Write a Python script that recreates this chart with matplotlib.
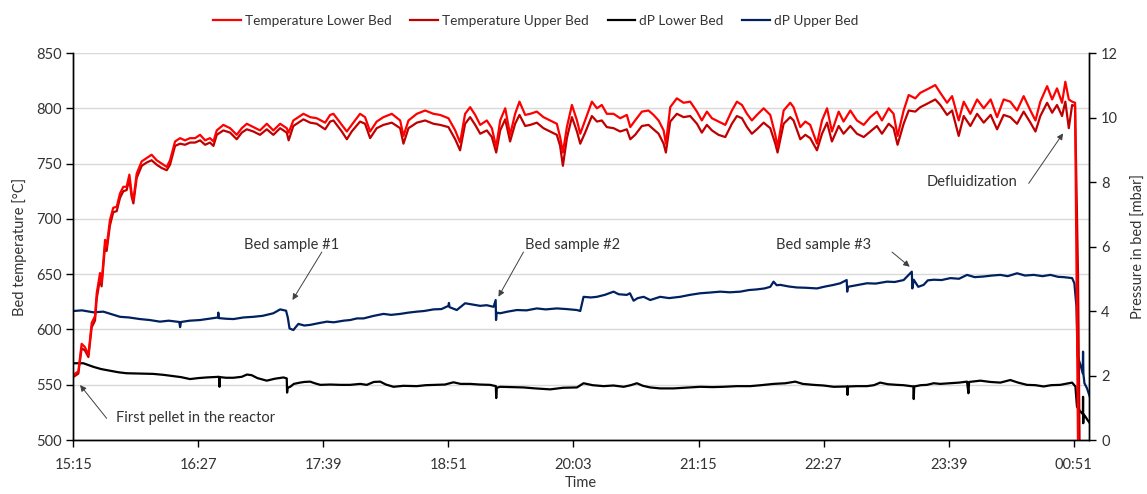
import matplotlib
matplotlib.use("Agg")
import matplotlib.pyplot as plt

# ---------------------------
# Data (minutes after 15:15)
# ---------------------------
t_temp = [0, 2.9, 4.8, 6.7, 8.7, 10.6, 12.5, 13.5, 15.4, 16.3, 18.3, 19.2, 21.1, 23, 25, 26.9,
          28.8, 30.7, 32.3, 33.6, 34.6, 36.5, 39.4, 42.3, 45.1, 48, 50.9, 53.8, 55.7, 58.6,
          61.5, 64.3, 67.2, 70.1, 73, 75.9, 78.7, 80.7, 82.6, 86.4, 90.3, 94.1, 97, 99.9,
          103.7, 107.5, 111.4, 115.2, 119.1, 122.9, 124, 126.7, 132.5, 136.4, 140.2, 145,
          147.9, 149.8, 152.7, 154.6, 157.5, 160.3, 165.1, 168, 170.9, 174.7, 178.6, 183.4,
          188.2, 190.1, 193, 197.8, 202.6, 207.4, 211.2, 216, 219.9, 222.7, 225.6, 228.5,
          231.4, 234.3, 238.1, 241, 243.5, 245.8, 248.7, 251.5, 254.4, 256.9, 260.2, 263.1,
          266.9, 270.7, 274.6, 278.4, 280.3, 281.9, 284.2, 287.1, 290, 291.9, 294.7, 298.6,
          301.5, 304.3, 307.2, 311.1, 314.9, 318.7, 320.7, 323.5, 327.4, 331.2, 334.1, 337,
          339.9, 341.2, 343.7, 347.5, 351.4, 355.2, 359.1, 361.9, 364.8, 367.7, 371.5, 375.4,
          379.2, 382.1, 385, 387.9, 390.7, 393.6, 397.5, 401.3, 404.2, 405.5, 409, 412.8,
          414.7, 418.6, 421.5, 424.3, 428.2, 431.1, 434, 436.8, 440.7, 443.5, 447.4, 451.2,
          455.1, 458.9, 462.7, 465.6, 469.5, 472.3, 474.6, 478.1, 481, 484.8, 487.7, 491.5,
          496.3, 499.2, 503.1, 506, 509.8, 512.7, 516.5, 520.4, 524.2, 528.2, 531.9, 535.7,
          539.5, 543.4, 547.2, 551.1, 554, 556.8, 560.7, 563.6, 566.4, 569.3, 571.2, 573.2,
          575.1, 576.8, 578.5, 579.5]

temp_lower = [559, 562, 587, 584, 577, 606, 612, 633, 651, 642, 681, 675, 699, 710, 711, 723,
              729, 729, 740, 723, 717, 741, 752, 755, 758, 753, 750, 747, 753, 770,
              773, 771, 773, 773, 776, 771, 773, 770, 780, 785, 782, 776, 782, 786,
              783, 780, 786, 780, 786, 782, 778, 789, 795, 792, 791, 787,
              794, 795, 789, 785, 779, 785, 795, 792, 779, 788, 792, 795,
              789, 775, 789, 795, 798, 795, 794, 791, 780, 769, 795, 801,
              794, 785, 789, 782, 765, 789, 800, 776, 795, 806, 794, 795,
              797, 792, 789, 786, 774, 760, 783, 803, 789, 777, 789, 806,
              800, 803, 795, 795, 791, 794, 783, 789, 797, 798, 794, 789,
              780, 768, 801, 809, 805, 806, 797, 789, 797, 791, 788, 785,
              798, 806, 803, 795, 789, 794, 800, 794, 776, 765, 798, 805,
              801, 783, 788, 785, 768, 789, 800, 779, 797, 788, 798, 789,
              785, 792, 797, 789, 800, 795, 775, 798, 812, 809, 814, 817,
              821, 814, 805, 811, 789, 806, 795, 808, 800, 808, 792, 808,
              806, 798, 811, 798, 789, 806, 820, 808, 818, 805, 824, 808,
              806, 805, 495, 480]

temp_upper = [557, 560, 583, 581, 575, 602, 608, 628, 646, 639, 676, 671, 694, 706, 707, 719,
              725, 726, 736, 720, 714, 737, 748, 751, 753, 749, 746, 744, 749, 766,
              768, 767, 769, 769, 771, 767, 769, 766, 776, 780, 778, 772, 778, 781,
              779, 776, 781, 776, 782, 778, 771, 784, 790, 787, 786, 781,
              788, 789, 783, 779, 772, 779, 788, 786, 773, 782, 785, 787,
              782, 768, 782, 787, 789, 786, 785, 783, 772, 762, 786, 792,
              785, 777, 780, 774, 760, 780, 790, 770, 786, 794, 784, 785,
              787, 782, 779, 776, 766, 748, 773, 792, 779, 768, 778, 793,
              788, 789, 783, 782, 779, 781, 772, 776, 784, 785, 781, 777,
              768, 760, 788, 795, 792, 793, 786, 778, 785, 780, 776, 774,
              786, 793, 791, 783, 777, 781, 787, 782, 768, 760, 786, 792,
              789, 772, 776, 773, 762, 777, 787, 770, 784, 777, 784, 777,
              774, 779, 784, 777, 786, 782, 767, 786, 798, 797, 801, 804,
              808, 803, 794, 798, 775, 793, 784, 795, 787, 794, 781, 794,
              792, 786, 797, 787, 779, 793, 805, 796, 803, 793, 806, 782,
              803, 802, 650, 480]

t_dp_lower = [0, 5.8, 11.5, 16, 21.1, 26, 30.7, 38, 46, 52, 57.6, 62, 67.2, 72, 76.8, 84, 84.2,
              84.4, 88, 92.2, 97, 100, 102.7, 106, 111.4, 116, 121, 122.9, 123.1, 123.4, 124.9,
              127, 130.6, 133, 136.4, 139, 142.2, 148, 153.7, 159.4, 165.2, 169, 173, 176.7,
              180, 184.4, 190, 197.8, 203, 209.3, 214, 218.9, 223, 228.5, 234, 240, 243.3,
              243.5, 243.8, 245.8, 252, 259.2, 266, 274.6, 282, 290, 293.8, 299, 305.3, 311,
              316.9, 321, 324.5, 328, 332.2, 338, 345.6, 352, 361, 368, 374.4, 382, 389.8,
              396, 403.2, 410, 415.7, 420, 426.2, 432, 437.8, 445.6, 445.8, 446.1, 451, 457,
              461, 464.6, 469, 474.2, 478, 483.7, 483.9, 484.2, 488, 491.5, 495.4, 499.2,
              505, 510, 514.6, 515.4, 515.8, 522.3, 528, 533.8, 539.5, 544, 549.1, 554,
              558.7, 563, 568.3, 572, 575.1, 577, 577.9, 579.9, 581.3, 581.4, 581.5, 581.7,
              582.8, 584, 585.3]

dp_lower = [2.38, 2.38, 2.27, 2.20, 2.15, 2.10, 2.07, 2.06, 2.05, 2.02, 1.98, 1.95, 1.89, 1.92,
            1.94, 1.96, 1.65, 1.95, 1.93, 1.93, 1.96, 2.03, 2.01, 1.92, 1.84, 1.90, 1.94, 1.91,
            1.47, 1.62, 1.65, 1.74, 1.78, 1.80, 1.81, 1.76, 1.71, 1.72, 1.71, 1.71, 1.74, 1.71,
            1.80, 1.81, 1.72, 1.65, 1.68, 1.67, 1.70, 1.71, 1.72, 1.79, 1.74, 1.74, 1.72, 1.71,
            1.67, 1.30, 1.62, 1.65, 1.64, 1.63, 1.60, 1.57, 1.62, 1.63, 1.76, 1.70, 1.67, 1.69,
            1.65, 1.70, 1.76, 1.68, 1.63, 1.60, 1.60, 1.62, 1.65, 1.64, 1.65, 1.67, 1.67,
            1.70, 1.74, 1.76, 1.81, 1.74, 1.71, 1.69, 1.65, 1.66, 1.40, 1.66, 1.67, 1.67,
            1.70, 1.78, 1.73, 1.71, 1.70, 1.66, 1.27, 1.66, 1.70, 1.71, 1.76, 1.74,
            1.76, 1.78, 1.81, 1.45, 1.80, 1.84, 1.80, 1.78, 1.86, 1.78, 1.71, 1.70,
            1.66, 1.70, 1.71, 1.75, 1.78, 1.66, 1.03, 0.88, 0.80, 1.34, 0.52, 0.80,
            0.72, 0.62, 0.52]

t_dp_upper = [0, 5, 11.5, 17.3, 22, 26.9, 32, 38.4, 44, 49.9, 55, 61, 61.5, 62, 67, 73, 78, 83.3,
              83.5, 83.8, 88, 92.2, 98, 103.7, 109, 115.2, 119.1, 122.5, 123.5, 124.5, 126.7,
              129.6, 133, 136.4, 141, 146, 150, 155.6, 159.4, 163.3, 167.1, 173, 178.6, 183,
              188.2, 193, 197.8, 202, 207.4, 212, 216, 216.3, 216.6, 220.8, 225.6, 230, 234.3,
              238, 242, 243.2, 243.4, 243.8, 245.8, 250, 255.4, 261, 266.9, 272, 278.4, 284,
              290, 291.9, 293.8, 298, 301.5, 306, 311.1, 314, 318.7, 320.5, 322.6, 325, 328.4,
              332.2, 337.9, 343, 349.4, 355, 361, 366, 372.5, 378, 384, 389, 393.6, 398, 401.3,
              403.2, 405, 407.1, 412, 416.6, 422, 428.2, 433, 437.8, 441.6, 445.3, 445.6, 446,
              451, 457, 462, 468.5, 473, 478.1, 482.8, 483.1, 483.9, 486.5, 489.6, 492, 495.4,
              500, 505, 510, 514.6, 519, 524.2, 529, 533.8, 538, 543.4, 548, 553, 558, 562.6,
              567, 570.3, 575.1, 576.4, 577.6, 578.3, 579.9, 581.2, 581.4, 581.6, 582.2, 583.7,
              585.3]

dp_upper = [4.00, 4.02, 3.96, 3.98, 3.90, 3.82, 3.80, 3.75, 3.72, 3.67, 3.70, 3.66, 3.50, 3.66,
            3.70, 3.72, 3.76, 3.80, 3.95, 3.78, 3.76, 3.75, 3.80, 3.82, 3.85, 3.93, 4.05, 4.01,
            3.80, 3.46, 3.41, 3.60, 3.55, 3.57, 3.62, 3.67, 3.65, 3.70, 3.72, 3.77, 3.77, 3.85,
            3.91, 3.88, 3.91, 3.95, 3.98, 4.00, 4.05, 4.06, 4.16, 4.25, 4.12, 4.03, 4.24, 4.20,
            4.16, 4.18, 4.13, 4.34, 3.72, 3.95, 3.93, 3.98, 4.03, 4.02, 4.08, 4.05, 4.08, 4.06,
            4.03, 4.00, 4.44, 4.42, 4.44, 4.50, 4.60, 4.52, 4.50, 4.55, 4.32, 4.40, 4.44,
            4.34, 4.44, 4.40, 4.44, 4.50, 4.55, 4.57, 4.60, 4.58, 4.60, 4.65, 4.67, 4.70, 4.75,
            4.91, 4.80, 4.81, 4.76, 4.73, 4.72, 4.70, 4.76, 4.81, 4.86, 4.96, 4.60, 4.75,
            4.80, 4.86, 4.85, 4.91, 4.90, 4.96, 5.22, 4.70, 4.97, 4.75, 4.81, 4.95, 4.97,
            4.96, 5.02, 5.00, 5.12, 5.05, 5.07, 5.10, 5.12, 5.08, 5.17, 5.10, 5.12, 5.08, 5.12,
            5.06, 5.05, 5.02, 4.86, 4.14, 2.59, 2.33, 2.07, 2.74, 2.05, 1.76, 1.60,
            1.34]

x_ticks = [0, 72, 144, 216, 288, 360, 432, 504, 576]
x_tick_labels = ["15:15", "16:27", "17:39", "18:51", "20:03", "21:15", "22:27", "23:39", "00:51"]

# annotations: (text, text pos, arrow tail, arrow head) in (minutes, °C)
notes = [
    ("First pellet in the reactor", (24.6, 520), (19.2, 519.6), (3.9, 549.7), "left"),
    ("Bed sample #1", (125.6, 676.3), (143.1, 670), (126.2, 626.6), "center"),
    ("Bed sample #2", (287.3, 676.3), (259.2, 670), (244.8, 629.6), "center"),
    ("Bed sample #3", (431.9, 676.3), (471.4, 670), (481.6, 656.7), "center"),
    ("Defluidization", (517.7, 733.3), (550.1, 732.1), (569.9, 777.3), "center"),
]

# ---------------------------
# Plot
# ---------------------------
plt.rcParams["font.family"] = ["Lato", "DejaVu Sans"]
txt = "#333333"

fig = plt.figure(figsize=(11.47, 4.94), dpi=100)
ax = fig.add_axes([0.0639, 0.1093, 0.8858, 0.7834])
ax2 = ax.twinx()

ax.set_xlim(0, 585)
ax.set_ylim(500, 850)
ax2.set_ylim(0, 12)
ax.set_yticks(range(500, 851, 50))
ax2.set_yticks(range(0, 13, 2))
ax.set_xticks(x_ticks)
ax.set_xticklabels(x_tick_labels)

ax.yaxis.grid(True, color="#D9D9D9", lw=1)
ax.set_axisbelow(True)

l_dpl, = ax2.plot(t_dp_lower, dp_lower, color="black", lw=1.6, label="dP Lower Bed")
l_dpu, = ax2.plot(t_dp_upper, dp_upper, color="#002060", lw=1.6, label="dP Upper Bed")
# temperatures drawn on top, using the left axis scale
l_tu, = ax2.plot(t_temp, temp_upper, color="#C00000", lw=1.6, transform=ax.transData,
                 label="Temperature Upper Bed")
l_tl, = ax2.plot(t_temp, temp_lower, color="#FF0000", lw=1.6, transform=ax.transData,
                 label="Temperature Lower Bed")
ax2.set_ylim(0, 12)

for a in (ax, ax2):
    a.spines["top"].set_visible(False)
    for s in ("left", "right", "bottom"):
        a.spines[s].set_color("black")
        a.spines[s].set_linewidth(1)
    a.tick_params(direction="out", length=5, width=1, colors="black", labelcolor=txt,
                  labelsize=10.5)
ax.tick_params(axis="x", pad=8)

ax.set_xlabel("Time", fontsize=10.5, color=txt, labelpad=3)
ax.set_ylabel("Bed temperature [°C]", fontsize=10.5, color=txt, labelpad=6)
ax2.set_ylabel("Pressure in bed [mbar]", fontsize=10.5, color=txt, labelpad=10)

for text, pos, tail, head, ha in notes:
    ax.text(pos[0], pos[1], text, ha=ha, va="center", fontsize=10.5, color=txt, zorder=5)
    ax2.annotate("", xy=head, xytext=tail, xycoords=ax.transData, textcoords=ax.transData,
                 arrowprops=dict(arrowstyle="-|>", color="#404040", lw=0.7,
                                 mutation_scale=9, shrinkA=0, shrinkB=0))

fig.legend([l_tl, l_tu, l_dpl, l_dpu],
           ["Temperature Lower Bed", "Temperature Upper Bed", "dP Lower Bed", "dP Upper Bed"],
           loc="center", bbox_to_anchor=(0.467, 0.958), ncol=4, frameon=False,
           fontsize=9.8, handlelength=2.0, handletextpad=0.3, columnspacing=1.4,
           labelcolor=txt)

plt.savefig("out.png", dpi=100)
plt.close()
